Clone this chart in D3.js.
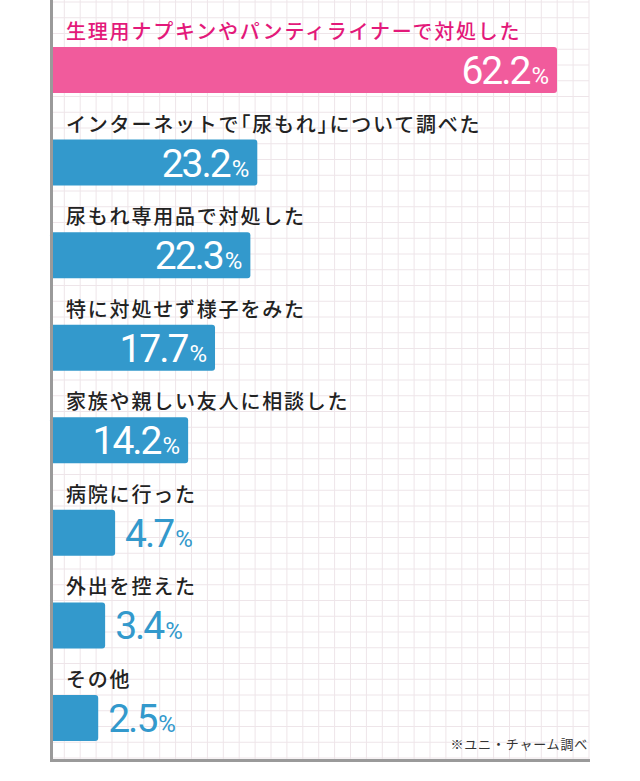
<!DOCTYPE html>
<html>
<head>
<meta charset="utf-8">
<script src="https://cdn.jsdelivr.net/npm/d3@7"></script>
<style>
  body { margin: 0; background: #fff; }
  .label { font-feature-settings: "halt"; }
</style>
</head>
<body>
<svg id="svg" width="640" height="781"></svg>
<script>
// chart data
let labels = [
    '生理用ナプキンやパンティライナーで対処した',
    'インターネットで「尿もれ」について調べた',
    '尿もれ専用品で対処した',
    '特に対処せず様子をみた',
    '家族や親しい友人に相談した',
    '病院に行った',
    '外出を控えた',
    'その他'
];
let values = [62.2, 23.2, 22.3, 17.7, 14.2, 4.7, 3.4, 2.5];
let note = '※ユニ・チャーム調べ';

let svg = d3.select('#svg');

// frame of the chart area
let frame = { l: 53, r: 589, t: 0, b: 760 };

// grid cells
let gridG = svg.append('g');
let colX = d3.range(0, 34).map(k => 589 - k * 15.9);
let rowY = d3.range(0, 49).map(k => 2 + k * 15.75);

gridG.selectAll('.vline')
    .data(colX)
    .enter()
    .append('line')
    .attr('x1', d => d).attr('x2', d => d)
    .attr('y1', frame.t).attr('y2', frame.b)
    .attr('stroke', '#eee5e9')
    .attr('stroke-width', 1);

gridG.selectAll('.hline')
    .data(rowY)
    .enter()
    .append('line')
    .attr('x1', frame.l).attr('x2', frame.r)
    .attr('y1', d => d).attr('y2', d => d)
    .attr('stroke', '#eee5e9')
    .attr('stroke-width', 1);

// scales
let yScale = d3.scaleBand()
    .domain(d3.range(labels.length))
    .range([47, 47 + 92.57 * labels.length])
    .paddingInner(0);

let barHeight = 46;

let xScale = d3.scaleLinear()
    .domain([0, d3.max(values)])
    .range([26, 504]);

let pink = '#f15b9c';
let pinkText = '#e3197a';
let blue = '#3399cc';

let rows = svg.selectAll('.row')
    .data(values)
    .enter()
    .append('g')
    .attr('class', 'row')
    .attr('transform', (d, i) => 'translate(' + [0, yScale(i)] + ')');

// category label above each bar
rows.append('text')
    .attr('class', 'label')
    .attr('x', 66)
    .attr('y', -8)
    .text((d, i) => labels[i])
    .attr('fill', (d, i) => i === 0 ? pinkText : '#222')
    .attr('font-family', '"Noto Sans CJK JP", sans-serif')
    .attr('font-weight', 500)
    .attr('font-size', '20px')
    .attr('letter-spacing', '1.8px');

// bars (left corners sit under the axis line)
rows.append('rect')
    .attr('x', 50)
    .attr('y', 0)
    .attr('width', d => xScale(d) + 3)
    .attr('height', barHeight)
    .attr('rx', 3)
    .attr('fill', (d, i) => i === 0 ? pink : blue);

// value labels: inside for long bars, outside for short ones
let valueText = rows.append('text')
    .attr('x', d => d >= 10 ? frame.l + xScale(d) - 8 : frame.l + xScale(d) + 10)
    .attr('y', 37)
    .attr('text-anchor', d => d >= 10 ? 'end' : 'start')
    .attr('fill', d => d >= 10 ? '#fff' : blue)
    .attr('font-family', 'Roboto, sans-serif')
    .attr('font-weight', 400);

valueText.append('tspan')
    .attr('font-size', '39px')
    .attr('letter-spacing', '-2px')
    .text(d => d.toFixed(1));

valueText.append('tspan')
    .attr('font-size', '24px')
    .attr('dx', 2)
    .text('%');

// axis lines
svg.append('rect')
    .attr('x', 50).attr('y', 0)
    .attr('width', 3).attr('height', 762)
    .attr('fill', '#9a9a9a');

svg.append('rect')
    .attr('x', 50).attr('y', 759)
    .attr('width', 540).attr('height', 3)
    .attr('fill', '#9a9a9a');

// source note
svg.append('text')
    .attr('x', 588)
    .attr('y', 749)
    .attr('text-anchor', 'end')
    .text(note)
    .attr('fill', '#333')
    .attr('font-family', '"Noto Sans CJK JP", sans-serif')
    .attr('font-size', '13px')
    .attr('letter-spacing', '0.8px');
</script>
</body>
</html>
